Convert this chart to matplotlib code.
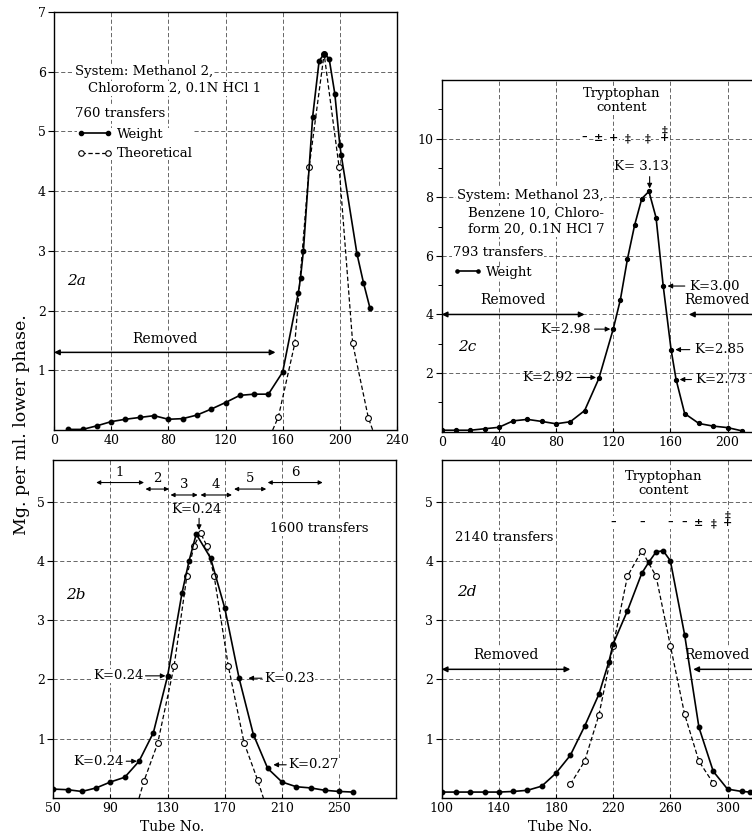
import numpy as np
import matplotlib
matplotlib.use("Agg")
import matplotlib.pyplot as plt
from matplotlib.lines import Line2D

plt.rcParams['font.family'] = ['DejaVu Serif', 'DejaVu Sans']
plt.rcParams['font.size'] = 9

# ---------------- data ----------------
# Panel 2a (760 transfers)
a_weight_x = [10, 20, 30, 40, 50, 60, 70, 80, 90, 100, 110, 120, 130, 140, 150, 160,
              171, 172.5, 174.5, 181, 185.5, 189, 192.5, 196.5, 200, 201, 212, 216.5, 221]
a_weight_y = [0.01, 0.01, 0.07, 0.14, 0.18, 0.21, 0.24, 0.18, 0.19, 0.25, 0.35, 0.46, 0.58,
              0.60, 0.60, 0.97, 2.30, 2.55, 3.00, 5.25, 6.18, 6.30, 6.22, 5.63, 4.77, 4.60,
              2.95, 2.47, 2.05]
a_theo_x = [153, 157, 168.5, 178.5, 189, 199.5, 209, 220, 223]
a_theo_y = [0.0, 0.22, 1.45, 4.40, 6.30, 4.40, 1.45, 0.20, 0.0]
a_xticks = [0, 40, 80, 120, 160, 200, 240]
a_yticks = [1, 2, 3, 4, 5, 6, 7]
a_removed = (0, 155, 1.3)

# Panel 2c (793 transfers)
c_weight_x = [0, 10, 20, 30, 40, 50, 60, 70, 80, 90, 100, 110, 120, 125, 130, 135, 140,
              145, 150, 155, 160.5, 164, 170, 180, 190, 200, 210]
c_weight_y = [0.05, 0.05, 0.05, 0.10, 0.15, 0.37, 0.42, 0.35, 0.27, 0.34, 0.72, 1.82, 3.50,
              4.50, 5.90, 7.05, 7.95, 8.20, 7.30, 4.97, 2.80, 1.78, 0.62, 0.28, 0.19, 0.14,
              0.03]
c_xticks = [0, 40, 80, 120, 160, 200]
c_yticks = [2, 4, 6, 8, 10]
c_yminor = [1, 3, 5, 7, 9, 11]
c_tryp_x = [100, 110, 120, 130, 144, 156]
c_tryp_sym = ['–', '±', '+', '‡', '‡', '‡\n+']
c_removed_left = (0, 100, 4.0)
c_removed_right = (173, 250, 4.0)

# Panel 2b (1600 transfers)
b_weight_x = [50, 60, 70, 80, 90, 100, 110, 120, 130, 140, 145, 150, 160, 170, 180, 190,
              200, 210, 220, 230, 240, 250, 260]
b_weight_y = [0.15, 0.14, 0.11, 0.17, 0.27, 0.35, 0.62, 1.10, 2.06, 3.45, 4.00, 4.45, 4.05,
              3.20, 2.02, 1.07, 0.50, 0.27, 0.19, 0.17, 0.13, 0.11, 0.10]
b_theo_x = [110, 113.5, 123, 134.5, 143.5, 148.5, 153, 157.5, 162.5, 172.5, 183.5, 193, 197]
b_theo_y = [0.0, 0.29, 0.92, 2.22, 3.75, 4.25, 4.47, 4.25, 3.75, 2.22, 0.93, 0.30, 0.0]
b_xticks = [50, 90, 130, 170, 210, 250]
b_yticks = [1, 2, 3, 4, 5]
b_frac_labels = ['1', '2', '3', '4', '5', '6']
b_frac_start = [80, 114.5, 132, 153, 176.5, 200]
b_frac_end = [113.5, 131, 151, 175, 199, 238.5]
b_frac_y = [5.32, 5.21, 5.11, 5.11, 5.21, 5.32]

# Panel 2d (2140 transfers)
d_weight_x = [100, 110, 120, 130, 140, 150, 160, 170, 180, 190, 200, 210, 217, 220, 230,
              240, 245, 250, 255, 260, 270, 280, 290, 300, 310, 316]
d_weight_y = [0.10, 0.10, 0.10, 0.10, 0.10, 0.11, 0.13, 0.20, 0.42, 0.72, 1.21, 1.75, 2.30,
              2.60, 3.16, 3.79, 3.98, 4.15, 4.17, 4.00, 2.75, 1.19, 0.45, 0.15, 0.11, 0.10]
d_theo_x = [190, 200, 210, 220, 230, 240, 250, 260, 270, 280, 290]
d_theo_y = [0.23, 0.62, 1.40, 2.57, 3.74, 4.17, 3.74, 2.57, 1.41, 0.62, 0.25]
d_xticks = [100, 140, 180, 220, 260, 300]
d_yticks = [1, 2, 3, 4, 5]
d_tryp_x = [220, 240, 260, 270, 280, 290, 300]
d_tryp_sym = ['–', '–', '–', '–', '±', '‡', '‡\n+']
d_removed_left = (100, 190, 2.17)
d_removed_right = (276, 350, 2.17)

# ---------------- figure ----------------
W, H = 752, 838
fig = plt.figure(figsize=(W / 100, H / 100), dpi=100)


def px_axes(left, bottom, width, height):
    return fig.add_axes([left / W, 1 - bottom / H, width / W, height / H])


ax_a = px_axes(54, 430, 343, 418)
ax_c = px_axes(441.7, 431.7, 343, 351.7)
ax_b = px_axes(53.3, 798, 343, 338)
ax_d = px_axes(441.7, 798, 343, 338)

TB = dict(fc='white', ec='none', pad=0.6)
FS = 9.5
ARR = dict(arrowstyle='-|>', color='k', lw=0.8, mutation_scale=7, shrinkA=1, shrinkB=0)
DARR = dict(arrowstyle='<|-|>', color='k', lw=1.1, mutation_scale=8, shrinkA=0, shrinkB=0)
SARR = dict(arrowstyle='-|>', color='k', lw=1.1, mutation_scale=8, shrinkA=0, shrinkB=0)


def style(ax, xlim, ylim, xt, yt):
    ax.set_xlim(*xlim)
    ax.set_ylim(*ylim)
    ax.set_xticks(xt)
    ax.set_yticks(yt)
    for s in ax.spines.values():
        s.set_linewidth(1.0)
        s.set_color('k')
    ax.grid(True, which='major', color='0.3', lw=0.6, ls=(0, (5, 3)))
    ax.tick_params(axis='y', which='major', direction='out', length=4, width=0.8,
                   labelsize=9, pad=2)
    ax.tick_params(axis='x', which='major', direction='in', length=3, width=0.8,
                   labelsize=9, pad=3)
    ax.set_axisbelow(True)


def weight(ax, x, y, ms=3.2):
    ax.plot(x, y, '-', color='k', lw=1.2, marker='o', ms=ms, zorder=4)


def theo(ax, x, y, ends=True):
    me = slice(1, len(x) - 1) if ends else None
    ax.plot(x, y, ls=(0, (3.5, 2)), color='k', lw=0.9, marker='o', ms=4.2,
            mfc='white', mec='k', mew=0.8, markevery=me, zorder=3)


# ---- 2a ----
style(ax_a, (0, 240), (0, 7), a_xticks, a_yticks)
theo(ax_a, a_theo_x, a_theo_y)
weight(ax_a, a_weight_x, a_weight_y)
ax_a.text(14.7, 6.0, 'System: Methanol 2,', va='center', fontsize=FS, bbox=TB)
ax_a.text(23.8, 5.72, 'Chloroform 2, 0.1N HCl 1', va='center', fontsize=FS, bbox=TB)
ax_a.text(14.7, 5.3, '760 transfers', va='center', fontsize=FS, bbox=TB)
h1 = Line2D([], [], color='k', lw=1.2, marker='o', ms=3)
h2 = Line2D([], [], color='k', lw=0.9, ls=(0, (3.5, 2)), marker='o', ms=4, mfc='white', mew=0.8)
ax_a.legend([h1, h2], ['Weight', 'Theoretical'], loc='upper left',
            bbox_to_anchor=(0.066, 0.723), numpoints=2, handlelength=2.65,
            handletextpad=0.38, labelspacing=0.5, borderpad=0, borderaxespad=0,
            fontsize=FS, frameon=True, facecolor='white', edgecolor='none',
            framealpha=1, fancybox=False)
ax_a.text(9, 2.5, '2a', style='italic', fontsize=11, va='center', bbox=TB)
ax_a.text((a_removed[0] + a_removed[1]) / 2, a_removed[2] + 0.22, 'Removed',
          ha='center', va='center', fontsize=10, bbox=TB)
ax_a.annotate('', xy=(a_removed[0], a_removed[2]), xytext=(a_removed[1], a_removed[2]),
              arrowprops=DARR, annotation_clip=False)

# ---- 2c ----
style(ax_c, (0, 240), (0, 12), c_xticks, c_yticks)
ax_c.set_yticks(c_yminor, minor=True)
ax_c.tick_params(axis='y', which='minor', direction='out', length=3, width=0.7)
weight(ax_c, c_weight_x, c_weight_y, ms=2.8)
ax_c.text(10.4, 8.05, 'System: Methanol 23,', va='center', fontsize=FS, bbox=TB)
ax_c.text(18.3, 7.45, 'Benzene 10, Chloro-', va='center', fontsize=FS, bbox=TB)
ax_c.text(18.3, 6.9, 'form 20, 0.1N HCl 7', va='center', fontsize=FS, bbox=TB)
ax_c.text(8, 6.1, '793 transfers', va='center', fontsize=FS, bbox=TB)
hc = Line2D([], [], color='k', lw=1.2, marker='o', ms=2.3)
ax_c.legend([hc], ['Weight'], loc='center left', bbox_to_anchor=(0.032, 0.454),
            numpoints=2, handlelength=2.2, handletextpad=0.34, borderpad=0,
            borderaxespad=0, fontsize=FS, frameon=True, facecolor='white',
            edgecolor='none', framealpha=1, fancybox=False)
ax_c.text(11.4, 2.9, '2c', style='italic', fontsize=11, va='center', bbox=TB)
ax_c.text((c_removed_left[0] + c_removed_left[1]) / 2, c_removed_left[2] + 0.5, 'Removed',
          ha='center', va='center', fontsize=10, bbox=TB)
ax_c.annotate('', xy=(c_removed_left[0], c_removed_left[2]),
              xytext=(c_removed_left[1], c_removed_left[2]), arrowprops=DARR,
              annotation_clip=False)
ax_c.text(215.8, c_removed_right[2] + 0.5, 'Removed', ha='right',
          va='center', fontsize=10, bbox=TB)
ax_c.annotate('', xy=(c_removed_right[0], c_removed_right[2]),
              xytext=(c_removed_right[1], c_removed_right[2]), arrowprops=SARR,
              annotation_clip=False)
ax_c.text(126, 11.3, 'Tryptophan\ncontent', ha='center', va='center', fontsize=FS,
          linespacing=1.05, bbox=TB)
for xs, s in zip(c_tryp_x, c_tryp_sym):
    ax_c.text(xs, 9.85, s, ha='center', va='bottom', fontsize=8, linespacing=0.6,
              fontweight='bold', bbox=TB)
ax_c.text(140, 9.05, 'K= 3.13', ha='center', va='center', fontsize=FS, bbox=TB)
ax_c.annotate('', xy=(145.5, 8.3), xytext=(145.5, 8.75), arrowprops=ARR)
ax_c.annotate('K=2.98', xy=(118, 3.5), xytext=(104, 3.5), ha='right', va='center',
              fontsize=FS, arrowprops=ARR)
ax_c.annotate('K=2.92', xy=(108, 1.85), xytext=(92, 1.85), ha='right', va='center',
              fontsize=FS, arrowprops=ARR)
ax_c.annotate('K=3.00', xy=(158, 4.97), xytext=(173, 4.97), ha='left', va='center',
              fontsize=FS, arrowprops=ARR)
ax_c.annotate('K=2.85', xy=(163.5, 2.8), xytext=(176.5, 2.8), ha='left', va='center',
              fontsize=FS, arrowprops=ARR)
ax_c.annotate('K=2.73', xy=(166.5, 1.78), xytext=(177.7, 1.78), ha='left', va='center',
              fontsize=FS, arrowprops=ARR)

# ---- 2b ----
style(ax_b, (50, 290), (0, 5.7), b_xticks, b_yticks)
theo(ax_b, b_theo_x, b_theo_y)
weight(ax_b, b_weight_x, b_weight_y)
for lab, x0, x1, yy in zip(b_frac_labels, b_frac_start, b_frac_end, b_frac_y):
    ax_b.annotate('', xy=(x0, yy), xytext=(x1, yy), arrowprops=dict(
        arrowstyle='<|-|>', color='k', lw=0.8, mutation_scale=6, shrinkA=0, shrinkB=0))
    ax_b.text((x0 + x1) / 2, yy + 0.17, lab, ha='center', va='center', fontsize=FS)
ax_b.text(150, 4.86, 'K=0.24', ha='center', va='center', fontsize=FS, bbox=TB)
ax_b.annotate('', xy=(152, 4.52), xytext=(152, 4.74), arrowprops=ARR)
ax_b.annotate('K=0.24', xy=(128.5, 2.06), xytext=(113, 2.06), ha='right', va='center',
              fontsize=FS, arrowprops=ARR, bbox=TB)
ax_b.annotate('K=0.23', xy=(186.5, 2.02), xytext=(197.5, 2.02), ha='left', va='center',
              fontsize=FS, arrowprops=ARR, bbox=TB)
ax_b.annotate('K=0.24', xy=(108.5, 0.62), xytext=(99.5, 0.62), ha='right', va='center',
              fontsize=FS, arrowprops=ARR, bbox=TB)
ax_b.annotate('K=0.27', xy=(204, 0.56), xytext=(214.5, 0.56), ha='left', va='center',
              fontsize=FS, arrowprops=ARR, bbox=TB)
ax_b.text(236, 4.54, '1600 transfers', ha='center', va='center', fontsize=FS, bbox=TB)
ax_b.text(59, 3.42, '2b', style='italic', fontsize=11, va='center', bbox=TB)
ax_b.set_xlabel('Tube No.', fontsize=10)
ax_b.xaxis.set_label_coords(0.346, -0.065)

# ---- 2d ----
style(ax_d, (100, 340), (0, 5.7), d_xticks, d_yticks)
theo(ax_d, d_theo_x, d_theo_y, ends=False)
weight(ax_d, d_weight_x, d_weight_y)
ax_d.text(255.6, 5.3, 'Tryptophan\ncontent', ha='center', va='center', fontsize=FS,
          linespacing=1.05, bbox=TB)
for xs, s in zip(d_tryp_x, d_tryp_sym):
    ax_d.text(xs, 4.55, s, ha='center', va='bottom', fontsize=8, linespacing=0.6,
              fontweight='bold', bbox=TB)
ax_d.text(109.3, 4.4, '2140 transfers', ha='left', va='center', fontsize=FS, bbox=TB)
ax_d.text(110.4, 3.47, '2d', style='italic', fontsize=11, va='center', bbox=TB)
ax_d.text((d_removed_left[0] + d_removed_left[1]) / 2, d_removed_left[2] + 0.24,
          'Removed', ha='center', va='center', fontsize=10, bbox=TB)
ax_d.annotate('', xy=(d_removed_left[0], d_removed_left[2]),
              xytext=(d_removed_left[1], d_removed_left[2]), arrowprops=DARR,
              annotation_clip=False)
ax_d.text(315.8, d_removed_right[2] + 0.24, 'Removed', ha='right',
          va='center', fontsize=10, bbox=TB)
ax_d.annotate('', xy=(d_removed_right[0], d_removed_right[2]),
              xytext=(d_removed_right[1], d_removed_right[2]), arrowprops=SARR,
              annotation_clip=False)
ax_d.set_xlabel('Tube No.', fontsize=10)
ax_d.xaxis.set_label_coords(0.345, -0.065)

fig.text(0.029, 0.493, 'Mg. per ml. lower phase.', rotation=90, ha='center',
         va='center', fontsize=12.5)

fig.savefig('out.png', dpi=100)
